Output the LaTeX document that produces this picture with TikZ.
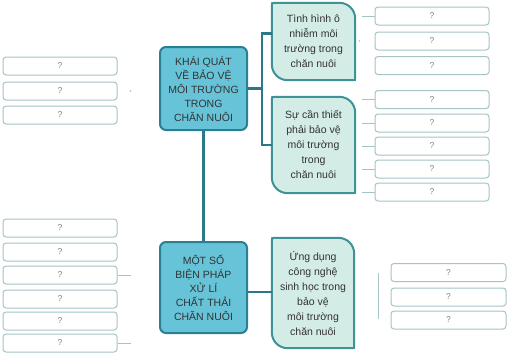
\documentclass[tikz,border=0pt]{standalone}
\usepackage{fontspec}
\setmainfont{Liberation Sans}
\usetikzlibrary{backgrounds,calc}
\definecolor{mainfill}{HTML}{66C3D8}
\definecolor{mainedge}{HTML}{2B7F92}
\definecolor{subfill}{HTML}{D3ECE5}
\definecolor{subedge}{HTML}{3F9296}
\definecolor{qedge}{HTML}{A6C3C5}
\definecolor{linec}{HTML}{2A7888}
\definecolor{txt}{HTML}{333333}
\tikzset{
  mainbox/.style={draw=mainedge, line width=2pt, fill=mainfill, rounded corners=6pt,
    align=center, text=txt, font=\fontsize{10.5}{14}\selectfont, inner sep=0pt},
  subbox/.style={align=center, text=txt, font=\fontsize{10.5}{15}\selectfont, inner sep=0pt},
  leafsty/.style={draw=subedge, line width=2pt, fill=subfill},
  qbox/.style={draw=qedge, line width=1pt, rounded corners=3pt, minimum width=114pt,
    minimum height=18pt, inner sep=0pt, text=gray, font=\fontsize{8.5}{10}\selectfont},
  conn/.style={draw=linec, line width=2.4pt},
  tick/.style={draw=qedge, line width=1pt}
}
\newcommand\leafshape[1]{%
  \draw[leafsty] ([xshift=3pt]#1.north west) -- ([xshift=-16pt]#1.north east)
    .. controls ([xshift=-7pt]#1.north east) and ([yshift=-7pt]#1.north east) .. ([yshift=-16pt]#1.north east)
    -- ([yshift=2pt]#1.south east) .. controls (#1.south east) .. ([xshift=-2pt]#1.south east)
    -- ([xshift=16pt]#1.south west) .. controls ([xshift=7pt]#1.south west) and ([yshift=7pt]#1.south west) .. ([yshift=16pt]#1.south west)
    -- ([yshift=-3pt]#1.north west) .. controls (#1.north west) .. ([xshift=3pt]#1.north west) -- cycle;}
\begin{document}
\begin{tikzpicture}[x=1pt,y=-1pt]
\useasboundingbox (0,0) rectangle (521,362);
% main boxes
\node[mainbox, minimum width=87pt, minimum height=83pt] (b1) at (203.5,88.5)
  {KHÁI QUÁT\\VỀ BẢO VỆ\\MÔI TRƯỜNG\\TRONG\\CHĂN NUÔI};
\node[mainbox, minimum width=87pt, minimum height=91pt] (b4) at (203.5,287.5)
  {MỘT SỐ\\BIỆN PHÁP\\XỬ LÍ\\CHẤT THẢI\\CHĂN NUÔI};
% sub boxes
\node[subbox, minimum width=83pt, minimum height=77pt] (b2) at (313.5,41.5)
  {Tình hình ô\\nhiễm môi\\trường trong\\chăn nuôi};
\node[subbox, minimum width=83pt, minimum height=96pt] (b3) at (313.5,145)
  {Sự cần thiết\\phải bảo vệ\\môi trường\\trong\\chăn nuôi};
\node[subbox, minimum width=82pt, minimum height=110pt] (b5) at (313,293)
  {Ứng dụng\\công nghệ\\sinh học trong\\bảo vệ\\môi trường\\chăn nuôi};
\begin{scope}[on background layer]
  \leafshape{b2}
  \leafshape{b3}
  \leafshape{b5}
\end{scope}
% question boxes right top
\foreach \n/\y in {r1/16,r2/41,r3/65.5,r4/99.5,r5/123,r6/146,r7/169,r8/192}
  \node[qbox] (\n) at (432,\y) {?};
% left top
\foreach \n/\y in {l1/66,l2/91,l3/115}
  \node[qbox] (\n) at (60,\y) {?};
% left bottom
\foreach \n/\y in {m1/228,m2/252,m3/275,m4/299,m5/321,m6/343}
  \node[qbox] (\n) at (60,\y) {?};
% right bottom
\foreach \n/\y in {s1/272.5,s2/297,s3/320}
  \node[qbox, minimum width=115pt] (\n) at (448.5,\y) {?};
% connectors
\coordinate (j) at (262,88.5);
\begin{scope}[on background layer]
\draw[conn] (b1.east) -- (j);
\draw[conn] ([yshift=8pt]b2.west) -| (j) |- (b3.west);
\draw[conn] (b1.south) -- (b4.north);
\draw[conn] (b4.east |- 0,292) -- (b5.west |- 0,292);
\end{scope}
% faint ticks
\foreach \n in {r1,r4,r5,r6,r7,r8}
  \draw[tick] ([xshift=-13pt]\n.west) -- (\n.west);
\fill[qedge] ([xshift=-15pt]r2.west) circle (0.9pt);
\fill[qedge] ([xshift=13pt]l2.east) circle (0.9pt);
\foreach \n in {m3,m6}
  \draw[tick] (\n.east) -- ([xshift=13pt]\n.east);
\coordinate (vb1) at (378,273);
\coordinate (vb2) at (378,319);
\draw[tick] (vb1) -- (vb2);
\end{tikzpicture}
\end{document}
